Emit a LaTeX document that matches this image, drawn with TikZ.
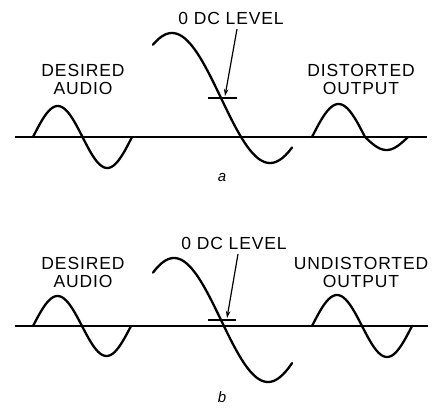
\documentclass[tikz,border=0pt]{standalone}
\usepackage{fontspec}
\setmainfont{Liberation Sans}
\usetikzlibrary{calc,arrows.meta}

\begin{document}
\begin{tikzpicture}[x=1pt,y=-1pt,
    wave/.style={line width=2.3pt,line cap=round},
    axis/.style={line width=1.3pt},
    lbl/.style={align=center,font=\fontsize{17.5}{18}\selectfont\addfontfeatures{LetterSpace=5}},
    dcarrow/.style={line width=1.2pt,-{Stealth[length=7pt,width=4.5pt]}}]
        \useasboundingbox (0,0) rectangle (438,408);

        % ---- a: distorted ----
        \coordinate (La) at (15,137);
        \coordinate (Ra) at (427,137);
        \draw[axis] (La) -- (Ra);

        % desired audio, one period
        \draw[wave] plot[domain=33:132,samples=60,smooth] (\x,{137-31*sin((\x-33)/99*360)});
        % amplified, shifted up from the 0 line
        \draw[wave] plot[domain=153:292,samples=80,smooth] (\x,{98-65*cos((\x-172)/196*360)});
        % distorted output: lower half squashed
        \draw[wave] plot[domain=312:365,samples=40,smooth] (\x,{137-33*sin((\x-312)/53*180)})
                 -- plot[domain=365:408,samples=40,smooth] (\x,{137+13*sin((\x-365)/43*180)});

        % 0 DC level mark
        \coordinate (Ta) at (208,98);
        \coordinate (Ua) at (237,98);
        \draw[axis] (Ta) -- (Ua);

        \node[lbl] (dcA) at (231,18) {0 DC LEVEL};
        \coordinate (Aa) at (237,29);
        \coordinate (Ba) at (225,96);
        \draw[dcarrow] (Aa) -- (Ba);

        \node[lbl] (inA) at (83,79) {DESIRED\\AUDIO};
        \node[lbl] (outA) at (361,79) {DISTORTED\\OUTPUT};
        \node[lbl,font=\fontsize{15}{16}\selectfont\itshape] (capA) at (222,178) {a};

        % ---- b: undistorted ----
        \coordinate (Lb) at (15,326);
        \coordinate (Rb) at (428,326);
        \draw[axis] (Lb) -- (Rb);

        \draw[wave] plot[domain=33:131,samples=60,smooth] (\x,{326-30*sin((\x-33)/98*360)});
        % amplified, centred on the 0 line
        \draw[wave] plot[domain=153:292,samples=80,smooth] (\x,{320-62*cos((\x-174)/188*360)});
        \draw[wave] plot[domain=312:412,samples=60,smooth] (\x,{326-31*sin((\x-312)/100*360)});

        \coordinate (Tb) at (208,320);
        \coordinate (Ub) at (236,320);
        \draw[axis] (Tb) -- (Ub);

        \node[lbl] (dcB) at (234,243) {0 DC LEVEL};
        \coordinate (Ab) at (238,254);
        \coordinate (Bb) at (227,318);
        \draw[dcarrow] (Ab) -- (Bb);

        \node[lbl] (inB) at (83,272) {DESIRED\\AUDIO};
        \node[lbl] (outB) at (361,272) {UNDISTORTED\\OUTPUT};
        \node[lbl,font=\fontsize{15}{16}\selectfont\itshape] (capB) at (222,397) {b};

    \end{tikzpicture}
\end{document}
